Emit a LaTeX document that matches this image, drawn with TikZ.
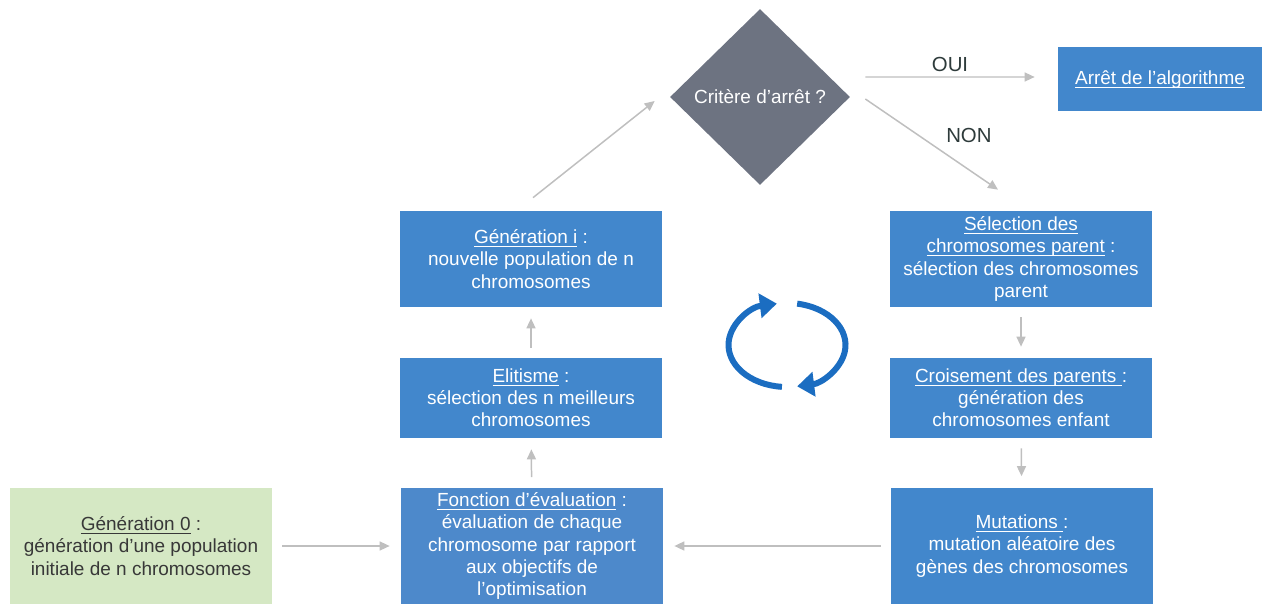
\documentclass[tikz,border=0pt]{standalone}
\usepackage{fontspec}
\setmainfont{Liberation Sans}
\usetikzlibrary{shapes.geometric,arrows.meta}

\definecolor{boxblue}{HTML}{4287CC}
\definecolor{evalblue}{HTML}{4D89CB}
\definecolor{startgreen}{HTML}{D5E8C4}
\definecolor{decgray}{HTML}{6D7381}
\definecolor{arrowgray}{HTML}{BFBFBF}
\definecolor{turnblue}{HTML}{1B6DC1}
\definecolor{answertext}{HTML}{2E3B3B}

% underline at a fixed depth
\newcommand{\uln}[1]{\leavevmode\setbox0\hbox{#1}\dp0=0pt\vtop{\box0\kern1.3pt\hrule height0.55pt}}

\begin{document}
\begin{tikzpicture}[
		box/.style={rectangle, fill=boxblue, text=white, align=center, inner sep=0pt, minimum width=5.24cm, font=\fontsize{10.8}{12.6}\selectfont},
		decision/.style={diamond, fill=decgray, text=white, aspect=1, inner sep=0pt, minimum width=3.6cm, minimum height=3.52cm, font=\fontsize{10.8}{12.6}\selectfont},
		answer/.style={text=answertext, font=\fontsize{11.6}{13}\selectfont},
		arrow/.style={-{Triangle[length=0.2cm,width=0.18cm]}, draw=arrowgray, line width=0.85pt, shorten <=0.2cm, shorten >=0.22cm},
		turnarrow/.style={-{Triangle[length=0.34cm,width=0.48cm]}, draw=turnblue, line width=0.12cm}
		]
		
		\useasboundingbox (0,0) rectangle (25.24,12.06);
		
		\node (gen0) [box, fill=startgreen, text={black!78}, minimum height=2.32cm] at (2.82,1.14) {\uln{Génération 0} :\\génération d’une population\\initiale de n chromosomes};
		\node (eval) [box, fill=evalblue, minimum height=2.34cm] at (10.64,1.14) {\uln{Fonction d’évaluation} :\\évaluation de chaque\\chromosome par rapport\\aux objectifs de\\l’optimisation};
		\node (elite) [box, minimum height=1.6cm] at (10.62,4.10) {\uln{Elitisme} :\\sélection des n meilleurs\\chromosomes};
		\node (geni) [box, minimum height=1.92cm] at (10.62,6.88) {\uln{Génération i} :\\nouvelle population de n\\chromosomes};
		\node (dec) [decision] at (15.20,10.12) {Critère d’arrêt ?};
		\node (stop) [box, minimum width=4.08cm, minimum height=1.28cm] at (23.20,10.48) {\uln{Arrêt de l’algorithme}};
		\node (select) [box, minimum height=1.92cm] at (20.42,6.88) {\uln{Sélection des}\\\uln{chromosomes parent} :\\sélection des chromosomes\\parent};
		\node (cross) [box, minimum height=1.6cm] at (20.42,4.10) {\uln{Croisement des parents\ }:\\génération des\\chromosomes enfant};
		\node (mut) [box, minimum height=2.34cm] at (20.44,1.14) {\uln{Mutations\ }:\\mutation aléatoire des\\gènes des chromosomes};
		
		\draw[arrow] (gen0) -- (eval);
		\draw[arrow] (eval) -- (elite);
		\draw[arrow] (elite) -- (geni);
		\draw[arrow, shorten <=0pt, shorten >=0pt] ([xshift=0.04cm,yshift=0.26cm]geni.north) -- ([xshift=-0.3cm,yshift=-0.08cm]dec.west);
		\draw[arrow, shorten <=0pt, shorten >=0pt] ([xshift=0.3cm,yshift=0.4cm]dec.east) -- node[answer, above, pos=0.5, yshift=-1pt] {OUI} ([xshift=-0.46cm,yshift=0.04cm]stop.west);
		\draw[arrow, shorten <=0pt, shorten >=0pt] ([xshift=0.3cm,yshift=-0.04cm]dec.east) -- node[answer, above right, pos=0.56] {NON} ([xshift=-0.46cm,yshift=0.42cm]select.north);
		\draw[arrow] (select) -- (cross);
		\draw[arrow] (cross) -- (mut);
		\draw[arrow] (mut) -- (eval);
		
		% cycle symbol
		\draw[turnarrow] (15.74,5.16) ++(265:1.17cm and 0.84cm) arc[start angle=265, end angle=100, x radius=1.17cm, y radius=0.84cm];
		\draw[turnarrow] (15.74,5.16) ++(80:1.17cm and 0.84cm) arc[start angle=80, end angle=-80, x radius=1.17cm, y radius=0.84cm];
		
	\end{tikzpicture}
\end{document}
